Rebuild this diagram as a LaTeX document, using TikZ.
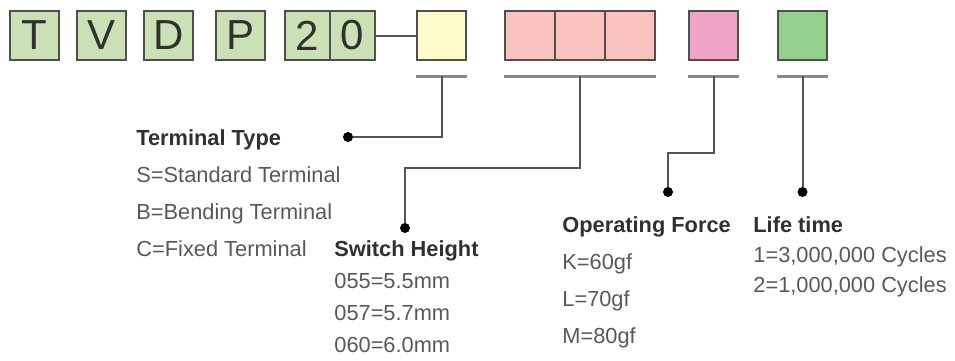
\documentclass[tikz,border=0pt]{standalone}
\usepackage{fontspec}
\setmainfont{Liberation Sans}
\usetikzlibrary{positioning,calc}
\definecolor{Frame}{HTML}{4F4F4F}
\definecolor{Code}{HTML}{C9E1B5}
\definecolor{Cream}{HTML}{FFFBCB}
\definecolor{Salmon}{HTML}{F8C2BE}
\definecolor{Rose}{HTML}{EEA3C7}
\definecolor{Leaf}{HTML}{94CF8D}
\definecolor{Rule}{HTML}{8A8A8A}
\definecolor{Wire}{HTML}{555555}
\definecolor{Ink}{HTML}{303030}
\definecolor{Soft}{HTML}{585858}
\tikzset{letter/.style={draw=Frame,fill=Code,line width=1pt,minimum width=24.5pt,minimum height=24.5pt,inner sep=0pt,text=Ink,font=\fontsize{21}{21}\selectfont},slot/.style={draw=Frame,line width=1pt,minimum width=24.5pt,minimum height=24.5pt,inner sep=0pt},bar/.style={draw=Rule,line width=1.5pt},wire/.style={draw=Wire,line width=1pt},dot/.style={circle,fill=black,minimum size=5pt,inner sep=0pt},head/.style={anchor=base west,inner sep=0pt,text=Ink,font=\fontsize{10.9}{13}\selectfont\bfseries},item/.style={anchor=base west,inner sep=0pt,text=Soft,font=\fontsize{10.9}{13}\selectfont}}

\begin{document}
\begin{tikzpicture}[x=0.5pt,y=-0.5pt]
  \useasboundingbox (0,0) rectangle (955,360);
  % part number boxes
  \node[letter](t) at (34.5,35.5){T};
  \node[letter,right=8pt of t](v){V};
  \node[letter,right=8pt of v](d){D};
  \node[letter,right=10.5pt of d](p){P};
  \node[letter,minimum width=22.5pt,right=9pt of p](two){2};
  \node[letter,minimum width=22.5pt,right=-1pt of two](zero){0};
  \node[slot,fill=Cream,right=20pt of zero](cream){};
  \node[slot,fill=Salmon,minimum width=25pt,right=18.5pt of cream](s1){};
  \node[slot,fill=Salmon,minimum width=25pt,right=-1pt of s1](s2){};
  \node[slot,fill=Salmon,minimum width=25pt,right=-1pt of s2](s3){};
  \node[slot,fill=Rose,right=16pt of s3](rose){};
  \node[slot,fill=Leaf,right=19pt of rose](leaf){};
  \draw[wire](zero)--(cream);
  % underlines
  \draw[bar]([yshift=-7.5pt]cream.south west)--([yshift=-7.5pt]cream.south east);
  \draw[bar]([yshift=-7.5pt]s1.south west)--([yshift=-7.5pt]s3.south east);
  \draw[bar]([yshift=-7.5pt]rose.south west)--([yshift=-7.5pt]rose.south east);
  \draw[bar]([yshift=-7.5pt]leaf.south west)--([yshift=-7.5pt]leaf.south east);
  \coordinate(uc) at ([yshift=-7.5pt]cream.south);
  \coordinate(us) at ([yshift=-7.5pt]s2.south);
  \coordinate(ur) at ([yshift=-7.5pt]rose.south);
  \coordinate(ul) at ([yshift=-7.5pt]leaf.south);
  % dots and leaders
  \node[dot](dt) at (348,137){};
  \node[dot](dh) at (405,228){};
  \node[dot](df) at (668,192){};
  \node[dot](dl) at (ul |- 0,192){};
  \draw[wire](uc)|-(dt);
  \draw[wire](us)--(us |- 0,168)-|(dh);
  \draw[wire](ur)--(ur |- 0,153)-|(df);
  \draw[wire](ul)--(dl);
  % legends
  \node[head](tt) at (136,145){Terminal Type};
  \foreach \t [count=\i] in {S=Standard Terminal,B=Bending Terminal,C=Fixed Terminal}
    \node[item](tt\i) at (136,{145+37.3*\i}){\t};
  \node[head](sh) at (334,256){Switch Height};
  \foreach \t [count=\i] in {055=5.5mm,057=5.7mm,060=6.0mm}
    \node[item](sh\i) at (334,{256+32.3*\i}){\t};
  \node[head](of) at (562,232){Operating Force};
  \foreach \t [count=\i] in {K=60gf,L=70gf,M=80gf}
    \node[item](of\i) at (562,{232+37*\i}){\t};
  \node[head](lt) at (753,232){Life time};
  \foreach \t [count=\i] in {{1=3,000,000 Cycles},{2=1,000,000 Cycles}}
    \node[item](lt\i) at (753,{232+30*\i}){\t};
\end{tikzpicture}
\end{document}
